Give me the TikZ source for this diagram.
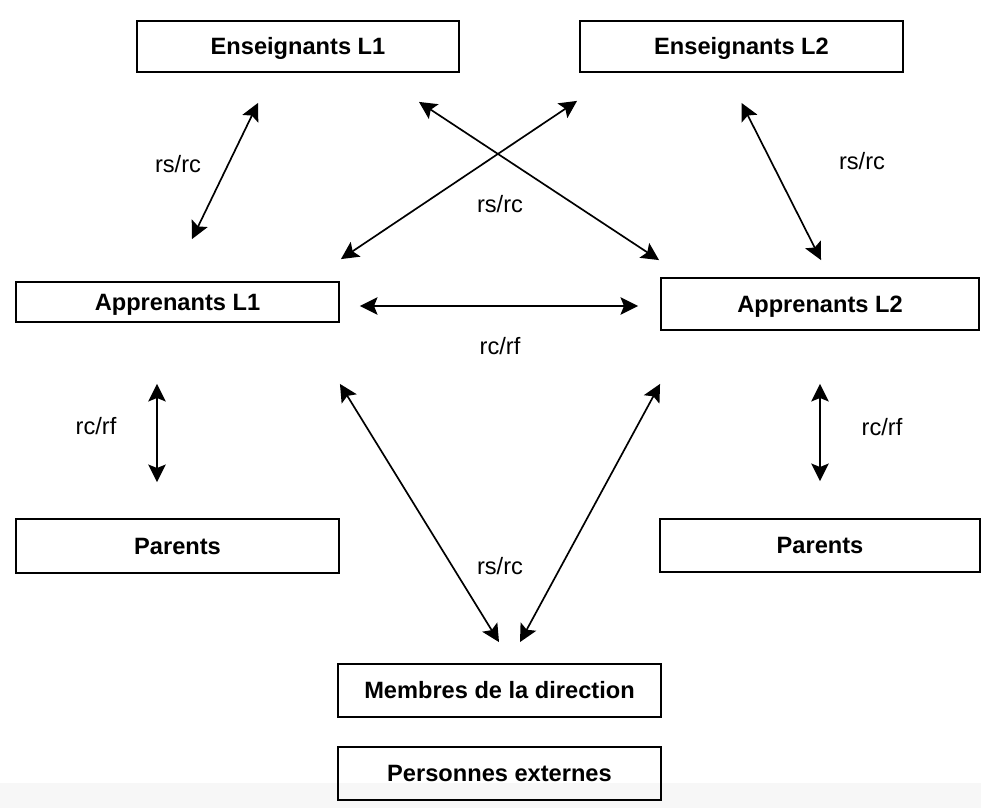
\documentclass[tikz,border=0pt]{standalone}
\usepackage{fontspec}
\setmainfont{Liberation Sans}
\usetikzlibrary{positioning, arrows.meta, calc}
\definecolor{ink}{HTML}{000000}
\definecolor{band}{HTML}{F7F7F7}

\begin{document}
\begin{tikzpicture}[x=0.025cm, y=-0.025cm,
  box/.style={draw=ink, line width=1.3pt, minimum width=8.075cm, minimum height=1.325cm, inner sep=0pt, text height=12pt, text depth=0pt, font=\fontsize{16.8}{20}\selectfont\bfseries},
  lbl/.style={font=\fontsize{16.8}{20}\selectfont, color=ink, inner sep=0pt},
  rel/.style={line width=1.2pt, color=ink, {Stealth[length=12.5pt,width=12.5pt,inset=2.5pt]}-{Stealth[length=12.5pt,width=12.5pt,inset=2.5pt]}}]
\useasboundingbox (0,0) rectangle (981,808);
\fill[band] (0,783) rectangle (981,808);
% teachers
\node[box, minimum width=8.05cm, minimum height=1.275cm] (ens1) at (298,46.5) {Enseignants L1};
\node[box, minimum height=1.275cm] (ens2) at (741.5,46.5) {Enseignants L2};
% learners
\node[box, minimum height=1.0cm] (app1) at (177.5,302) {Apprenants L1};
\node[box, minimum width=7.95cm, minimum height=1.3cm] (app2) at (820,304) {Apprenants L2};
% parents
\node[box, minimum height=1.35cm] (par1) at (177.5,546) {Parents};
\node[box, minimum width=8.0cm] (par2) at (820,545.5) {Parents};
% direction
\node[box] (dir) at (499.5,690.5) {Membres de la direction};
\node[box, below=0.7cm of dir] (ext) {Personnes externes};
% relations
\draw[rel] ($(ens1.south)+(-40,30)$) -- ($(app1.north)+(14.5,-42)$);
\draw[rel] ($(ens1.south)+(121,29)$) -- ($(app2.north west)+(-1,-17)$);
\draw[rel] ($(ens2.south west)+(-2,28)$) -- ($(app1.north east)+(1,-22)$);
\draw[rel] ($(ens2.south)+(0,30)$) -- ($(app2.north)+(1,-17)$);
\draw[rel] ($(app1.east)+(20,4)$) -- ($(app2.west)+(-22,2)$);
\draw[rel] ($(app1.south)+(-20.5,61)$) -- ($(par1.north)+(-20.5,-36)$);
\draw[rel] ($(app2.south)+(0,53)$) -- ($(par2.north)+(0,-37)$);
\draw[rel] ($(app1.south east)+(0,61)$) -- ($(dir.north)+(-0.5,-21)$);
\draw[rel] ($(app2.south west)+(0,53)$) -- ($(dir.north)+(20.5,-21)$);
% labels
\node[lbl] (lE1) at (178,164) {rs/rc};
\node[lbl] (lE2) at (862,161) {rs/rc};
\node[lbl] (lX) at (500,204) {rs/rc};
\node[lbl] (lA) at (500,346) {rc/rf};
\node[lbl] (lP1) at (96,426) {rc/rf};
\node[lbl] (lP2) at (882,427) {rc/rf};
\node[lbl] (lD) at (500,566) {rs/rc};
\end{tikzpicture}
\end{document}
